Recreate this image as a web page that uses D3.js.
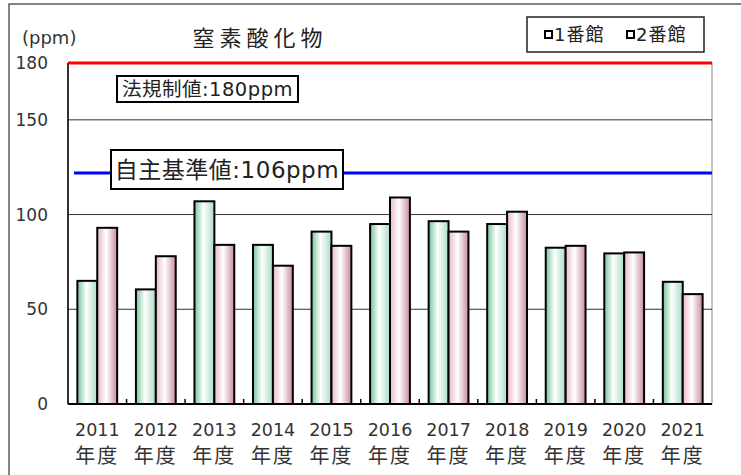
<!DOCTYPE html>
<html><head><meta charset="utf-8">
<script src="https://cdn.jsdelivr.net/npm/d3@7"></script>
<style>
html,body{margin:0;padding:0;background:#fff;}
svg{display:block;font-family:"DejaVu Sans","Noto Sans CJK JP",sans-serif;}
</style></head>
<body>
<script>
const years = ["2011","2012","2013","2014","2015","2016","2017","2018","2019","2020","2021"];
const seriesNames = ["1番館","2番館"];
const bldg1 = [65, 60.5, 107, 84, 91, 95, 96.5, 95, 82.5, 79.5, 64.5];
const bldg2 = [93, 78, 84, 73, 83.5, 109, 91, 101.5, 83.5, 80, 58];
const yTicks = [0, 50, 100, 150, 180];
const gridTicks = [50, 100, 150];
const legalLimit = 180;
const legalLabel = "法規制値:180ppm";
const selfLimitPos = 122;
const selfLabel = "自主基準値:106ppm";
const title = "窒素酸化物";
const unit = "(ppm)";
const yearSuffix = "年度";

(function(){
const W = 741, H = 475;
const svg = d3.select("body").append("svg").attr("width", W).attr("height", H);

const defs = svg.append("defs");
function grad(id, c1, c2){
  const g = defs.append("linearGradient").attr("id", id).attr("x1","0%").attr("x2","100%").attr("y1","0%").attr("y2","0%");
  g.append("stop").attr("offset","0%").attr("stop-color", c1);
  g.append("stop").attr("offset","45%").attr("stop-color", "#ffffff");
  g.append("stop").attr("offset","100%").attr("stop-color", c2);
}
grad("g1", "#74c49a", "#a9dcc2");
grad("g2", "#e6b9ca", "#c98aa5");

svg.append("rect").attr("x", 9).attr("y", 4).attr("width", W).attr("height", H)
  .attr("fill","none").attr("stroke","#333").attr("stroke-width",1.2);

const pL = 68, pR = 712, pT = 63, pB = 404;
const y = d3.scaleLinear().domain([0, 180]).range([pB, pT]);
const x0 = d3.scaleBand().domain(years).range([pL, pR]).paddingInner(0.32).paddingOuter(0.16);
const x1 = d3.scaleBand().domain(seriesNames).range([0, x0.bandwidth()]);

svg.append("rect").attr("x", pL).attr("y", pT).attr("width", pR-pL).attr("height", pB-pT)
  .attr("fill","#fff").attr("stroke","#888").attr("stroke-width",1);

svg.append("g").selectAll("line").data(gridTicks).join("line")
  .attr("x1", pL).attr("x2", pR).attr("y1", d=>y(d)).attr("y2", d=>y(d))
  .attr("stroke","#333").attr("stroke-width",1);

svg.append("line").attr("x1", pL+6).attr("x2", pR).attr("y1", y(selfLimitPos)).attr("y2", y(selfLimitPos))
  .attr("stroke","#0000ff").attr("stroke-width",3);

const series = [bldg1, bldg2];
const fills = ["url(#g1)","url(#g2)"];
const gBars = svg.append("g");
series.forEach((vals, si) => {
  gBars.append("g").selectAll("rect").data(vals).join("rect")
    .attr("x", (d,i)=> x0(years[i]) + x1(seriesNames[si]))
    .attr("y", d=>y(d))
    .attr("width", x1.bandwidth())
    .attr("height", d=> y(0)-y(d))
    .attr("fill", fills[si]).attr("stroke","#000").attr("stroke-width",2);
});

svg.append("line").attr("x1",pL).attr("x2",pL).attr("y1",pT).attr("y2",pB).attr("stroke","#000").attr("stroke-width",1.5);
svg.append("line").attr("x1",pL).attr("x2",pR).attr("y1",pB).attr("y2",pB).attr("stroke","#000").attr("stroke-width",2);
const bounds = years.slice(1).map(yr => x0(yr) - x0.step()*x0.paddingInner()/2);
svg.append("g").selectAll("line").data(bounds).join("line")
  .attr("x1", d=>d).attr("x2", d=>d).attr("y1", pB).attr("y2", pB-5)
  .attr("stroke","#000").attr("stroke-width",1.5);

svg.append("line").attr("x1", pL).attr("x2", pR).attr("y1", y(legalLimit)).attr("y2", y(legalLimit))
  .attr("stroke","#ff0000").attr("stroke-width",3);

svg.append("g").selectAll("text").data(yTicks).join("text")
  .attr("x", 48).attr("y", d=>y(d)).attr("dy","0.35em").attr("text-anchor","end")
  .attr("font-size",17).attr("fill","#333").text(d=>d);

const xl = svg.append("g").selectAll("g").data(years).join("g")
  .attr("transform", d=>`translate(${x0(d)+x0.bandwidth()/2},0)`);
xl.append("text").attr("y", 430).attr("dy","0.35em").attr("text-anchor","middle")
  .attr("font-size",17.5).attr("fill","#333").text(d=>d);
xl.append("text").attr("y", 456).attr("dy","0.35em").attr("text-anchor","middle")
  .attr("font-size",20).attr("letter-spacing",2).attr("fill","#333").text(yearSuffix);

svg.append("text").attr("x", 260).attr("y", 38).attr("dy","0.35em").attr("text-anchor","middle")
  .attr("font-size",22).attr("letter-spacing",5).attr("fill","#222").text(title);
svg.append("text").attr("x", 22).attr("y", 38).attr("dy","0.35em")
  .attr("font-size",18).attr("fill","#333").text(unit);

const lg = svg.append("g");
lg.append("rect").attr("x",527).attr("y",17).attr("width",177).attr("height",35)
  .attr("fill","#fff").attr("stroke","#222").attr("stroke-width",1.5);
const legX = [545, 627];
seriesNames.forEach((n,i)=>{
  lg.append("rect").attr("x", legX[i]).attr("y", 31).attr("width",7).attr("height",7)
    .attr("fill","#fff").attr("stroke","#000").attr("stroke-width",2);
  lg.append("text").attr("x", legX[i]+9).attr("y", 35).attr("dy","0.35em")
    .attr("font-size",18).attr("letter-spacing",1).attr("fill","#222").text(n);
});

function labelBox(x, yy, w, h, txt, fs, ls){
  svg.append("rect").attr("x",x).attr("y",yy).attr("width",w).attr("height",h)
    .attr("fill","#fff").attr("stroke","#000").attr("stroke-width",2);
  svg.append("text").attr("x", x+w/2).attr("y", yy+h/2).attr("dy","0.35em").attr("text-anchor","middle")
    .attr("font-size",fs).attr("letter-spacing",ls).attr("fill","#222").text(txt);
}
labelBox(117, 76, 181, 26, legalLabel, 19.5, 0.5);
labelBox(111, 150, 232, 39, selfLabel, 23, 0.5);
})();
</script>
</body></html>
